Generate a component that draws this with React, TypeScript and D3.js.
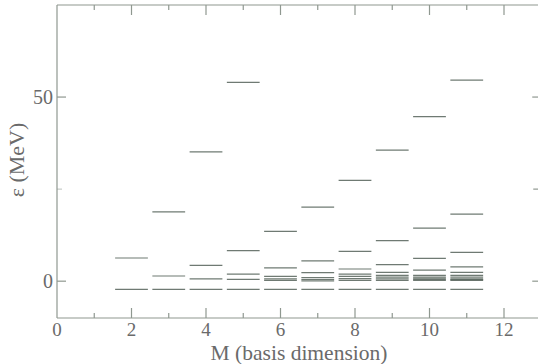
import React from "react";
import * as d3 from "d3";

const basisDims = [2, 3, 4, 5, 6, 7, 8, 9, 10, 11];
const levelsM2 = [-2.2, 6.3];
const levelsM3 = [-2.2, 1.4, 18.8];
const levelsM4 = [-2.2, 0.6, 4.3, 35.1];
const levelsM5 = [-2.2, 0.5, 1.9, 8.3, 54.0];
const levelsM6 = [-2.2, 0.2, 0.6, 1.3, 3.6, 13.5];
const levelsM7 = [-2.2, 0.1, 0.5, 1.0, 2.3, 5.5, 20.1];
const levelsM8 = [-2.2, 0.2, 0.7, 1.3, 1.9, 3.3, 8.1, 27.4];
const levelsM9 = [-2.2, 0.2, 0.6, 1.1, 1.6, 2.4, 4.5, 11.0, 35.6];
const levelsM10 = [-2.2, 0.2, 0.5, 0.8, 1.1, 1.6, 3.0, 6.2, 14.4, 44.7];
const levelsM11 = [-2.2, 0.2, 0.4, 0.6, 1.1, 1.6, 2.4, 3.9, 7.8, 18.2, 54.6];
const allLevels = [levelsM2, levelsM3, levelsM4, levelsM5, levelsM6, levelsM7, levelsM8, levelsM9, levelsM10, levelsM11];

const xTickLabels = [0, 2, 4, 6, 8, 10, 12];
const xMinorTicks = [1, 3, 5, 7, 9, 11];
const yTickLabels = [0, 50];
const yMinorTicks = [25];

export default function App() {
  const W = 538, H = 364;
  const left = 57, top = 5, bottom = 318;
  const x = d3.scaleLinear().domain([0, 13]).range([left, left + 13 * 37.25]);
  const y = d3.scaleLinear().domain([-10, 75]).range([bottom, top]);
  const right = x(13);
  const halfW = 0.44;
  const axisColor = "#8f9890";
  const textColor = "#6a6a6a";
  const font = "'Liberation Serif', 'Times New Roman', serif";

  const segs: { m: number; e: number }[] = [];
  basisDims.forEach((m, i) => allLevels[i].forEach((e) => segs.push({ m, e })));

  return (
    <svg width={W} height={H} style={{ position: "absolute", left: 0, top: 0, background: "#fff" }}>
      {/* frame */}
      <line x1={left} x2={left} y1={top} y2={bottom} stroke={axisColor} strokeWidth={1.2} />
      <line x1={left} x2={right} y1={bottom} y2={bottom} stroke={axisColor} strokeWidth={1.2} />
      <line x1={left} x2={right} y1={top} y2={top} stroke={axisColor} strokeWidth={1.2} />
      <line x1={right} x2={right} y1={top} y2={bottom} stroke={axisColor} strokeWidth={1.2} />
      {/* x ticks */}
      {xTickLabels.map((t) => (
        <g key={"xt" + t}>
          {t > 0 && <line x1={x(t)} x2={x(t)} y1={bottom} y2={bottom - 10} stroke={axisColor} strokeWidth={1.2} />}
          {t > 0 && <line x1={x(t)} x2={x(t)} y1={top} y2={top + 10} stroke={axisColor} strokeWidth={1.2} />}
          <text x={x(t)} y={336} textAnchor="middle" fontFamily={font} fontSize={19} fill={textColor}>{t}</text>
        </g>
      ))}
      {xMinorTicks.map((t) => (
        <g key={"xm" + t}>
          <line x1={x(t)} x2={x(t)} y1={bottom} y2={bottom - 5} stroke={axisColor} strokeWidth={1.2} />
          <line x1={x(t)} x2={x(t)} y1={top} y2={top + 5} stroke={axisColor} strokeWidth={1.2} />
        </g>
      ))}
      {/* y ticks */}
      {yTickLabels.map((t) => (
        <g key={"yt" + t}>
          <line x1={left} x2={left + 9} y1={y(t)} y2={y(t)} stroke={axisColor} strokeWidth={1.2} />
          <line x1={right} x2={right - 9} y1={y(t)} y2={y(t)} stroke={axisColor} strokeWidth={1.2} />
          <text x={53} y={y(t)} dy="0.35em" textAnchor="end" fontFamily={font} fontSize={20} fill={textColor}>{t}</text>
        </g>
      ))}
      {yMinorTicks.map((t) => (
        <g key={"ym" + t}>
          <line x1={left} x2={left + 5} y1={y(t)} y2={y(t)} stroke={axisColor} strokeWidth={1} opacity={0.6} />
          <line x1={right} x2={right - 8} y1={y(t)} y2={y(t)} stroke={axisColor} strokeWidth={1.2} />
        </g>
      ))}
      {/* energy levels */}
      {segs.map((s, i) => (
        <line key={i} x1={x(s.m - halfW)} x2={x(s.m + halfW)} y1={y(s.e)} y2={y(s.e)} stroke="#56635a" strokeWidth={1.2} strokeOpacity={0.85} />
      ))}
      {/* titles */}
      <text x={299} y={360} textAnchor="middle" fontFamily={font} fontSize={21.5} fill={textColor}>M (basis dimension)</text>
      <text transform={`translate(24,160) rotate(-90)`} textAnchor="middle" fontFamily={font} fontSize={22} fill={textColor}>ε (MeV)</text>
    </svg>
  );
}
